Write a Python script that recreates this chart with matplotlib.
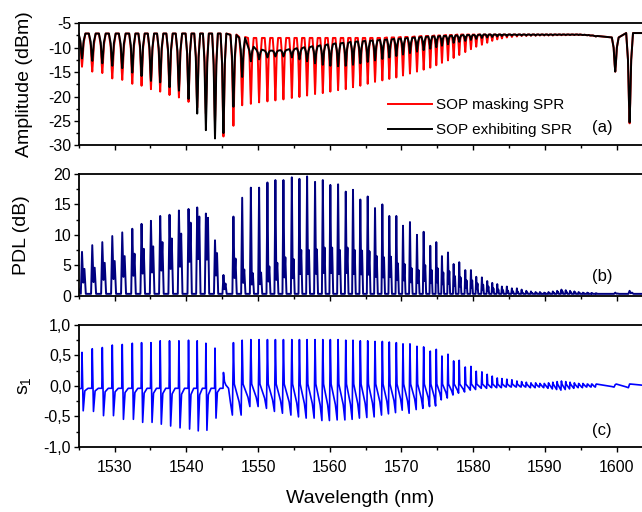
import numpy as np
import matplotlib.pyplot as plt
from matplotlib.ticker import MultipleLocator, FuncFormatter

plt.rcParams['font.family'] = ['Liberation Sans', 'DejaVu Sans']
plt.rcParams['axes.unicode_minus'] = False

# resonance wavelengths (nm)
res_wl = [1525.46, 1526.89, 1528.29, 1529.68, 1531.07, 1532.47, 1533.76, 1535.07, 1536.36, 1537.66,
          1538.97, 1540.31, 1541.52, 1542.73, 1544.00, 1545.18, 1546.57, 1547.79, 1549.00, 1550.15,
          1551.31, 1552.42, 1553.54, 1554.71, 1555.77, 1556.84, 1557.95, 1559.03, 1560.08, 1561.16,
          1562.23, 1563.24, 1564.26, 1565.29, 1566.31, 1567.33, 1568.30, 1569.28, 1570.21, 1571.18,
          1572.16, 1573.09, 1574.01, 1574.85, 1575.64, 1576.48, 1577.27, 1578.05, 1578.89, 1579.68,
          1580.42, 1581.21, 1581.95, 1582.65, 1583.35, 1584.00, 1584.69, 1585.39, 1586.09,
          1586.75, 1587.40, 1588.05, 1588.70, 1589.30, 1589.90, 1590.50, 1591.10, 1591.70, 1592.30,
          1592.90, 1593.50, 1594.10, 1594.70, 1595.30, 1595.90, 1596.50, 1597.10,
          1599.80, 1601.80]

# (a) amplitude, dBm: dip bottoms and levels between dips
red_dip = [-13.9, -14.9, -15.2, -16.3, -16.6, -17.4, -17.8, -18.5, -19.0, -19.7,
           -20.2, -21.1, -22.3, -23.5, -25.5, -28.2, -26.0, -21.8, -21.5, -21.2,
           -21.0, -20.8, -20.6, -20.3, -20.1, -19.8, -19.5, -19.3, -19.0, -18.7,
           -18.5, -18.1, -17.8, -17.4, -17.0, -16.7, -16.4, -16.1, -15.7, -15.3,
           -14.9, -14.5, -14.1, -13.6, -13.1, -12.6, -12.1, -11.5, -10.9, -10.3,
           -9.8, -9.4, -9.0, -8.6, -8.3, -8.1, -7.9, -7.8, -7.7,
           -7.6, -7.6, -7.55, -7.55, -7.5, -7.5, -7.5, -7.5, -7.45, -7.45,
           -7.45, -7.4, -7.4, -7.4, -7.4, -7.45, -7.5, -7.7,
           -14.9, -25.5]
red_top = [-7.1] * 16 + [-7.3, -7.8] + [-8.0] * 18 + [-7.9, -7.9, -7.8, -7.8,
           -7.7, -7.6, -7.6, -7.5, -7.5, -7.4, -7.4] + [-7.3] * 26 + [-7.35, -7.4, -7.5, -7.6, -7.9, -7.0]
black_dip = [-12.2, -12.7, -13.2, -13.7, -14.2, -15.1, -15.8, -16.8, -17.1, -18.1,
             -18.8, -20.5, -23.5, -26.9, -28.6, -27.5, -22.1, -16.0, -12.8, -12.4,
             -12.0, -11.8, -11.8, -12.0, -12.4, -12.8, -13.2, -13.5, -13.7, -13.8,
             -13.7, -13.5, -13.2, -12.9, -12.6, -12.3, -12.0, -11.7, -11.4, -11.1,
             -10.8, -10.5, -10.2, -9.9, -9.6, -9.3, -9.0, -8.8, -8.6, -8.4,
             -8.2, -8.0, -7.9, -7.8, -7.7, -7.6, -7.6, -7.5, -7.5,
             -7.5, -7.5, -7.5, -7.5, -7.45, -7.45, -7.45, -7.45, -7.4, -7.4,
             -7.4, -7.4, -7.4, -7.4, -7.4, -7.45, -7.5, -7.7,
             -14.9, -25.3]
black_top = [-7.1] * 16 + [-7.4, -8.0, -9.8, -10.4,
             -10.6, -10.6, -10.5, -10.3, -10.1, -9.9, -9.7, -9.5, -9.3, -9.1,
             -9.0, -8.8, -8.7, -8.6, -8.5, -8.4, -8.3, -8.2, -8.1, -8.0,
             -7.9, -7.8, -7.7, -7.7, -7.6, -7.6, -7.5, -7.5, -7.4, -7.4,
             -7.4] + [-7.3] * 22 + [-7.35, -7.4, -7.5, -7.6, -7.9, -7.0]

# (b) PDL, dB: main spike and the smaller one just after it
pdl_main = [7.2, 8.3, 8.8, 9.8, 10.4, 11.0, 11.8, 12.3, 13.1, 13.3,
            14.0, 14.25, 14.5, 13.5, 9.1, 3.4, 13.0, 16.1, 17.75, 17.75,
            18.6, 19.0, 19.0, 19.45, 19.2, 19.6, 18.7, 19.0, 18.2, 18.3,
            17.1, 17.4, 15.8, 16.3, 14.4, 15.0, 13.1, 13.1, 11.5, 12.1,
            10.0, 10.5, 8.2, 8.8, 6.5, 7.1, 5.2, 5.5, 4.2, 4.2,
            3.1, 3.0, 2.4, 2.1, 1.9, 1.5, 1.5, 1.2, 1.2,
            1.0, 0.8, 0.7, 0.6, 0.6, 0.5, 0.6, 0.7, 0.8, 1.0,
            0.9, 0.8, 0.7, 0.6, 0.5, 0.5, 0.45, 0.4,
            0.5, 0.8]
pdl_side = [4.4, 4.6, 5.4, 5.7, 6.5, 6.9, 7.7, 8.1, 8.8, 9.4,
            10.2, 12.0, 13.0, 12.8, 7.0, 2.0, 6.1, 4.3, 3.7, 3.8,
            4.8, 5.4, 6.3, 6.0, 7.5, 7.5, 7.6, 7.9, 7.9, 7.5,
            7.9, 7.5, 7.4, 7.3, 6.5, 6.3, 6.4, 5.3, 5.2, 4.5,
            4.2, 5.0, 4.2, 4.5, 3.8, 4.0, 3.2, 3.0, 2.5, 2.5,
            2.0, 1.8, 1.5, 1.2, 1.0, 0.9, 0.8, 0.7, 0.6,
            0.5, 0.5, 0.45, 0.45, 0.4, 0.4, 0.45, 0.5, 0.6, 0.7,
            0.6, 0.55, 0.5, 0.45, 0.4, 0.4, 0.35, 0.35,
            0.35, 0.5]
pdl_base = 0.3

# (c) s1: spike maximum and the minimum next to it
s1_peak = [0.55, 0.61, 0.63, 0.67, 0.68, 0.70, 0.71, 0.71, 0.74, 0.74,
           0.74, 0.75, 0.74, 0.70, 0.62, 0.22, 0.71, 0.75, 0.76, 0.76,
           0.76, 0.76, 0.76, 0.76, 0.76, 0.76, 0.76, 0.76, 0.76, 0.76,
           0.75, 0.75, 0.74, 0.74, 0.73, 0.73, 0.72, 0.71, 0.69, 0.69,
           0.65, 0.64, 0.57, 0.60, 0.49, 0.52, 0.41, 0.42, 0.31, 0.32,
           0.24, 0.23, 0.19, 0.16, 0.13, 0.12, 0.11, 0.10, 0.08,
           0.07, 0.06, 0.05, 0.05, 0.04, 0.04, 0.05, 0.06, 0.07, 0.08,
           0.07, 0.06, 0.05, 0.04, 0.04, 0.03, 0.03, 0.02,
           0.02, 0.03]
s1_trough = [-0.41, -0.42, -0.49, -0.49, -0.55, -0.55, -0.60, -0.60, -0.63, -0.66,
             -0.69, -0.71, -0.74, -0.73, -0.53, 0.07, -0.48, -0.48, -0.34, -0.34,
             -0.37, -0.42, -0.45, -0.48, -0.51, -0.53, -0.53, -0.57, -0.57, -0.56,
             -0.56, -0.55, -0.53, -0.52, -0.51, -0.48, -0.46, -0.44, -0.40, -0.45,
             -0.39, -0.37, -0.34, -0.33, -0.23, -0.20, -0.15, -0.12, -0.10, -0.07,
             -0.06, -0.04, -0.04, -0.03, -0.03, -0.03, -0.02, -0.02, -0.02,
             -0.02, -0.02, -0.03, -0.03, -0.02, -0.03, -0.04, -0.05, -0.06, -0.07,
             -0.06, -0.05, -0.04, -0.03, -0.03, -0.02, -0.02, -0.02,
             -0.02, -0.03]
s1_base = -0.04
n_trough_after = 16   # below ~1546 nm the minimum follows the spike, above it precedes it

XMIN, XMAX = 1525.0, 1603.53

# dip outline: (offset in units of local spacing, fraction of depth)
DIP_SHAPE = [(-0.34, 0.0), (-0.16, 0.3), (-0.06, 0.78), (0.0, 1.0),
             (0.06, 0.78), (0.16, 0.3), (0.34, 0.0)]


def local_gap(wl, cap=1.4):
    wl = np.asarray(wl, float)
    d = np.diff(wl)
    return np.minimum(np.minimum(np.r_[d[0], d], np.r_[d, d[-1]]), cap)


def build(wl, pts, start, end):
    g = local_gap(wl)
    xs, ys = [XMIN - 1], [start]
    for c, gi, p in zip(wl, g, pts):
        for off, y in p:
            xs.append(c + off * gi)
            ys.append(y)
    xs.append(XMAX + 1)
    ys.append(end)
    return np.array(xs), np.array(ys)


def amp_trace(tops, dips):
    pts = [[(o, t + f * (b - t)) for o, f in DIP_SHAPE] for t, b in zip(tops, dips)]
    return build(res_wl, pts, tops[0], tops[-1])


def pdl_trace():
    pts = []
    for m, s in zip(pdl_main, pdl_side):
        pts.append([(-0.12, pdl_base), (0.0, m), (0.12, pdl_base + 0.45 * (s - pdl_base)),
                    (0.24, s), (0.38, pdl_base)])
    return build(res_wl, pts, 3.9, pdl_base)


def s1_trace():
    pts = []
    for i, (pk, tr) in enumerate(zip(s1_peak, s1_trough)):
        if i < n_trough_after:
            pts.append([(-0.05, s1_base), (0.0, pk), (0.12, tr), (0.28, 0.2 * tr), (0.6, s1_base)])
        else:
            pts.append([(-0.35, 0.55 * tr), (-0.12, tr), (0.0, pk), (0.1, 0.03)])
    return build(res_wl, pts, -0.08, 0.0)


fig = plt.figure(figsize=(6.42, 5.12), dpi=100)
left, width = 0.1226, 0.8774
ax_a = fig.add_axes([left, 0.7162, width, 0.2383])
ax_b = fig.add_axes([left, 0.4225, width, 0.2377])
ax_c = fig.add_axes([left, 0.1275, width, 0.2377])

xr, yr = amp_trace(red_top, red_dip)
xb, yb = amp_trace(black_top, black_dip)
ax_a.plot(xr, yr, color='#ff0000', lw=1.4, label='SOP masking SPR')
ax_a.plot(xb, yb, color='black', lw=1.4, label='SOP exhibiting SPR')

xp, yp = pdl_trace()
ax_b.plot(xp, yp, color='#000080', lw=1.4)

xs, ys = s1_trace()
ax_c.plot(xs, ys, color='#0000ff', lw=1.2)

for ax in (ax_a, ax_b, ax_c):
    ax.set_xlim(XMIN, XMAX)
    ax.xaxis.set_major_locator(MultipleLocator(10))
    ax.xaxis.set_minor_locator(MultipleLocator(5))
    ax.tick_params(which='both', direction='out', top=False, right=False,
                   labelsize=11.5, width=1.0)
    ax.tick_params(axis='y', pad=2)
    ax.tick_params(axis='x', pad=6)
    ax.tick_params(which='major', length=3.5)
    ax.tick_params(which='minor', length=2.2)
    ax.spines['right'].set_visible(False)
    for s in ('left', 'top', 'bottom'):
        ax.spines[s].set_linewidth(1.3)

ax_a.set_ylim(-30, -5)
ax_a.yaxis.set_major_locator(MultipleLocator(5))
ax_a.yaxis.set_minor_locator(MultipleLocator(2.5))
ax_a.tick_params(labelbottom=False)

ax_b.set_ylim(0, 20)
ax_b.yaxis.set_major_locator(MultipleLocator(5))
ax_b.yaxis.set_minor_locator(MultipleLocator(2.5))
ax_b.tick_params(labelbottom=False)

ax_c.set_ylim(-1, 1)
ax_c.yaxis.set_major_locator(MultipleLocator(0.5))
ax_c.yaxis.set_minor_locator(MultipleLocator(0.25))
ax_c.yaxis.set_major_formatter(FuncFormatter(lambda v, p: f"{v:.1f}".replace('.', ',')))

ax_a.set_ylabel('Amplitude (dBm)', fontsize=14)
ax_b.set_ylabel('PDL (dB)', fontsize=14)
ax_c.set_ylabel(r'$\mathregular{s_1}$', fontsize=14)
ax_a.yaxis.set_label_coords(-0.081, 0.5)
ax_b.yaxis.set_label_coords(-0.086, 0.5)
ax_c.yaxis.set_label_coords(-0.081, 0.5)
ax_c.set_xlabel('Wavelength (nm)', fontsize=14, labelpad=11)

ax_a.legend(loc='upper left', bbox_to_anchor=(0.5486, 0.385), frameon=False, fontsize=11,
            handlelength=2.9, handletextpad=0.25, labelspacing=0.72, borderpad=0, borderaxespad=0)

ax_a.text(0.929, 0.15, '(a)', transform=ax_a.transAxes, fontsize=12, ha='center', va='center')
ax_b.text(0.929, 0.154, '(b)', transform=ax_b.transAxes, fontsize=12, ha='center', va='center')
ax_c.text(0.929, 0.131, '(c)', transform=ax_c.transAxes, fontsize=12, ha='center', va='center')

fig.savefig('out.png', dpi=100)
